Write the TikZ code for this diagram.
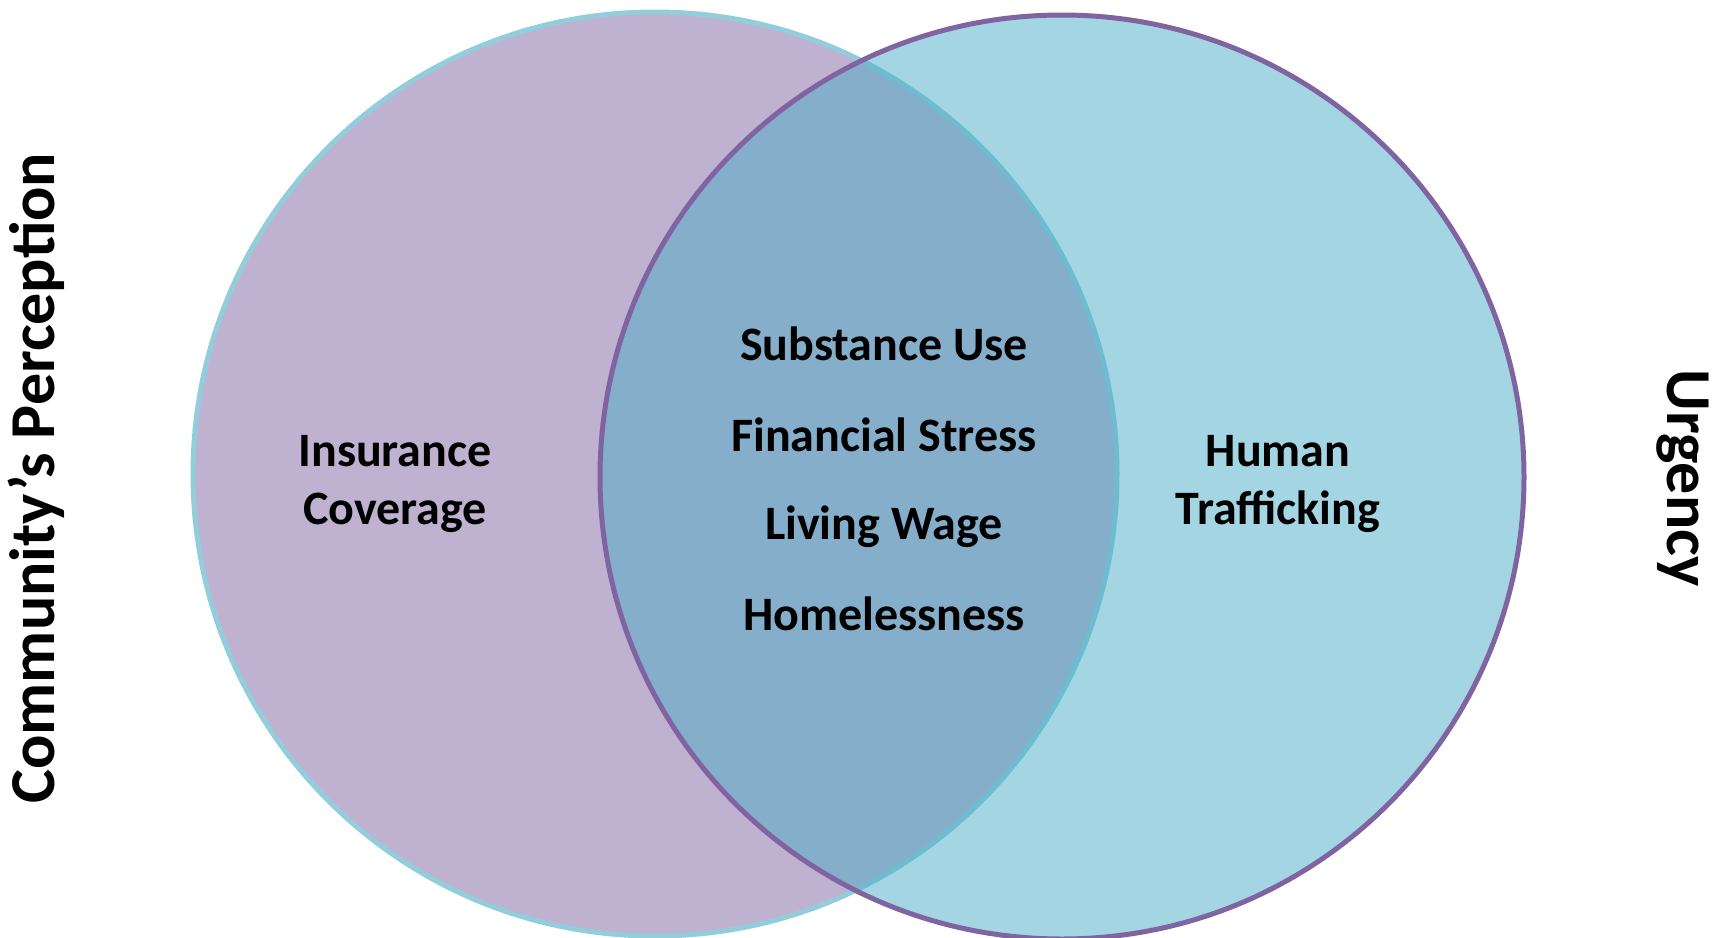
\documentclass[tikz,border=0pt]{standalone}
\usepackage{fontspec}
\setmainfont{Carlito}
\definecolor{vpurple}{HTML}{8064A2}
\definecolor{vaqua}{HTML}{4BACC6}
\definecolor{vaqualight}{HTML}{92CDDC}
\tikzset{
  lbl/.style={font=\bfseries\fontsize{48}{58}\selectfont, align=center, text=black},
  side/.style={font=\bfseries\fontsize{64}{76}\selectfont, text=black, inner sep=0pt}
}
\begin{document}
\begin{tikzpicture}[x=1pt,y=-1pt]
\useasboundingbox (0,0) rectangle (1713,937);
\fill[white] (0,0) rectangle (1713,937);
% left circle
\path[fill=vpurple, fill opacity=0.5] (655,474) circle[radius=462];
\draw[vaqualight, line width=5pt] (655,474) circle[radius=462];
% right circle
\path[fill=vaqua, fill opacity=0.5] (1062,477) circle[radius=462];
\draw[vpurple, line width=5pt] (1062,477) circle[radius=462];
% labels
\node[lbl] (ins) at (395,484) {Insurance\\Coverage};
\node[lbl] (hum) at (1278,484) {Human\\Trafficking};
\node[lbl] (s1) at (884,344) {Substance Use};
\node[lbl] (s2) at (884,435) {Financial Stress};
\node[lbl] (s3) at (884,527) {Living Wage};
\node[lbl] (s4) at (884,614) {Homelessness};
\node[side, rotate=90] (cp) at (36,478) {Community’s Perception};
\node[side, rotate=-90] (urg) at (1683,478) {Urgency};
\end{tikzpicture}
\end{document}
